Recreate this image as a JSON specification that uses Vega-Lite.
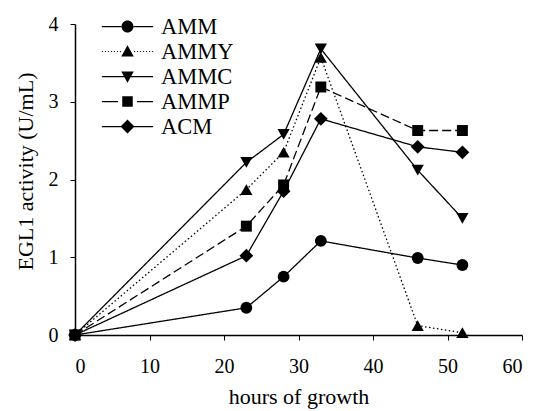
{
  "$schema": "https://vega.github.io/schema/vega-lite/v6.json",
  "width": 447,
  "height": 311,
  "autosize": {"type": "none"},
  "padding": {"left": 75, "top": 24, "right": 13, "bottom": 76},
  "background": "white",
  "config": {
    "view": {"stroke": null},
    "font": "Liberation Serif",
    "axis": {
      "grid": false,
      "domainColor": "black",
      "domainWidth": 1.5,
      "tickColor": "black",
      "tickSize": 5,
      "labelFont": "Liberation Serif",
      "labelFontSize": 20,
      "labelColor": "black",
      "titleFont": "Liberation Serif",
      "titleFontSize": 22,
      "titleFontWeight": "normal",
      "titleColor": "black"
    }
  },
  "data": {
    "values": [
      {"series": "AMM", "hours": 0, "activity": 0},
      {"series": "AMM", "hours": 23, "activity": 0.35},
      {"series": "AMM", "hours": 28, "activity": 0.75},
      {"series": "AMM", "hours": 33, "activity": 1.21},
      {"series": "AMM", "hours": 46, "activity": 0.99},
      {"series": "AMM", "hours": 52, "activity": 0.9},
      {"series": "AMMY", "hours": 0, "activity": 0},
      {"series": "AMMY", "hours": 23, "activity": 1.87},
      {"series": "AMMY", "hours": 28, "activity": 2.35},
      {"series": "AMMY", "hours": 33, "activity": 3.57},
      {"series": "AMMY", "hours": 46, "activity": 0.12},
      {"series": "AMMY", "hours": 52, "activity": 0.03},
      {"series": "AMMC", "hours": 0, "activity": 0},
      {"series": "AMMC", "hours": 23, "activity": 2.22},
      {"series": "AMMC", "hours": 28, "activity": 2.58},
      {"series": "AMMC", "hours": 33, "activity": 3.68},
      {"series": "AMMC", "hours": 46, "activity": 2.12},
      {"series": "AMMC", "hours": 52, "activity": 1.5},
      {"series": "AMMP", "hours": 0, "activity": 0},
      {"series": "AMMP", "hours": 23, "activity": 1.4},
      {"series": "AMMP", "hours": 28, "activity": 1.93},
      {"series": "AMMP", "hours": 33, "activity": 3.19},
      {"series": "AMMP", "hours": 46, "activity": 2.63},
      {"series": "AMMP", "hours": 52, "activity": 2.63},
      {"series": "ACM", "hours": 0, "activity": 0},
      {"series": "ACM", "hours": 23, "activity": 1.02},
      {"series": "ACM", "hours": 28, "activity": 1.85},
      {"series": "ACM", "hours": 33, "activity": 2.78},
      {"series": "ACM", "hours": 46, "activity": 2.42},
      {"series": "ACM", "hours": 52, "activity": 2.35}
    ]
  },
  "encoding": {
    "x": {
      "field": "hours",
      "type": "quantitative",
      "scale": {"domain": [0, 60], "nice": false},
      "axis": {"values": [0, 10, 20, 30, 40, 50, 60], "labelPadding": 16, "title": "hours of growth", "titlePadding": 10}
    },
    "y": {
      "field": "activity",
      "type": "quantitative",
      "scale": {"domain": [0, 4], "nice": false},
      "axis": {"values": [0, 1, 2, 3, 4], "labelPadding": 12, "title": "EGL1 activity (U/mL)", "titlePadding": 11, "titleY": 147}
    }
  },
  "layer": [
    {
      "mark": {"type": "line", "color": "black", "strokeWidth": 1.3},
      "encoding": {
        "strokeDash": {
          "field": "series",
          "type": "nominal",
          "scale": {
            "domain": ["AMMY", "AMMP", "AMM", "AMMC", "ACM"],
            "range": [[1.5, 2.5], [9, 4], [1, 0], [1, 0], [1, 0]]
          },
          "legend": null
        }
      }
    },
    {
      "transform": [{"filter": "datum.series === 'AMM'"}],
      "mark": {"type": "point", "shape": "circle", "filled": true, "color": "black", "size": 140, "opacity": 1}
    },
    {
      "transform": [{"filter": "datum.series === 'AMMY'"}],
      "mark": {"type": "point", "shape": "triangle-up", "filled": true, "color": "black", "size": 150, "opacity": 1}
    },
    {
      "transform": [{"filter": "datum.series === 'AMMC'"}],
      "mark": {"type": "point", "shape": "triangle-down", "filled": true, "color": "black", "size": 150, "opacity": 1}
    },
    {
      "transform": [{"filter": "datum.series === 'AMMP'"}],
      "mark": {"type": "point", "shape": "square", "filled": true, "color": "black", "size": 120, "opacity": 1}
    },
    {
      "transform": [{"filter": "datum.series === 'ACM'"}],
      "mark": {"type": "point", "shape": "diamond", "filled": true, "color": "black", "size": 190, "opacity": 1}
    },
    {
      "mark": {"type": "point", "filled": true, "fill": "black", "stroke": "black", "strokeWidth": 1.2, "opacity": 0},
      "encoding": {
        "shape": {
          "field": "series",
          "type": "nominal",
          "scale": {
            "domain": ["AMM", "AMMY", "AMMC", "AMMP", "ACM"],
            "range": [
              "M-2.05,-0.05H-0.46V0.05H-2.05ZM0.46,-0.05H2.05V0.05H0.46ZM-0.48,0A0.48,0.48 0 1,0 0.48,0A0.48,0.48 0 1,0 -0.48,0Z",
              "M-2.05,-0.04h0.08v0.08h-0.08ZM-1.81,-0.04h0.08v0.08h-0.08ZM-1.57,-0.04h0.08v0.08h-0.08ZM-1.33,-0.04h0.08v0.08h-0.08ZM-1.09,-0.04h0.08v0.08h-0.08ZM-0.85,-0.04h0.08v0.08h-0.08ZM-0.61,-0.04h0.08v0.08h-0.08ZM0.53,-0.04h0.08v0.08h-0.08ZM0.77,-0.04h0.08v0.08h-0.08ZM1.01,-0.04h0.08v0.08h-0.08ZM1.25,-0.04h0.08v0.08h-0.08ZM1.49,-0.04h0.08v0.08h-0.08ZM1.73,-0.04h0.08v0.08h-0.08ZM1.97,-0.04h0.08v0.08h-0.08ZM0,-0.5L0.5,0.4L-0.5,0.4Z",
              "M-2.05,-0.05H-0.2V0.05H-2.05ZM0.2,-0.05H2.05V0.05H0.2ZM0,0.5L-0.5,-0.4L0.5,-0.4Z",
              "M-2.05,-0.05H-0.76V0.05H-2.05ZM0.76,-0.05H2.05V0.05H0.76ZM-0.42,-0.42H0.42V0.42H-0.42Z",
              "M-2.05,-0.05H-0.48V0.05H-2.05ZM0.48,-0.05H2.05V0.05H0.48ZM0,-0.56L0.56,0L0,0.56L-0.56,0Z"
            ]
          },
          "legend": {
            "title": null,
            "orient": "none",
            "legendX": 40,
            "legendY": -10,
            "padding": 0,
            "labelFont": "Liberation Serif",
            "labelFontSize": 22.5,
            "labelColor": "black",
            "symbolSize": 625,
            "symbolOpacity": 1,
            "symbolFillColor": "black",
            "symbolStrokeColor": "black",
            "symbolStrokeWidth": 0,
            "labelOffset": 21,
            "rowPadding": 1
          }
        }
      }
    }
  ]
}
